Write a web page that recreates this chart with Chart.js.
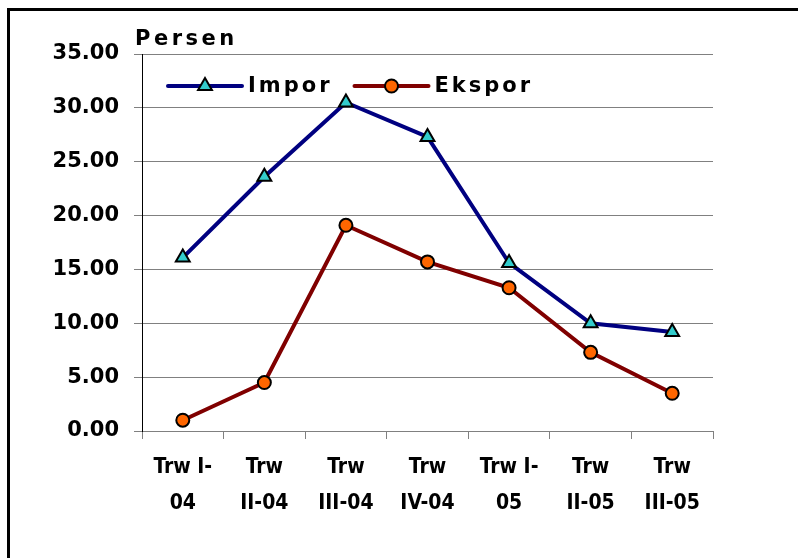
<!DOCTYPE html>
<html>
<head>
<meta charset="utf-8">
<script src="https://cdn.jsdelivr.net/npm/chart.js@4"></script>
<style>
  body { margin: 0; background: #fff; }
  canvas { display: block; }
</style>
</head>
<body>
<canvas id="grafik" width="798" height="558"></canvas>
<script>
// data kuartalan (persen)
const kategori = [
  ['Trw I-', '04'], ['Trw', 'II-04'], ['Trw', 'III-04'], ['Trw', 'IV-04'],
  ['Trw I-', '05'], ['Trw', 'II-05'], ['Trw', 'III-05']
];
const impor = [16.1, 23.6, 30.5, 27.3, 15.6, 10.0, 9.2];
const ekspor = [1.0, 4.5, 19.1, 15.7, 13.3, 7.3, 3.5];
const judulSumbuY = 'Persen';

const hurufTebal = '"DejaVu Sans", "Liberation Sans", sans-serif';
const hurufSempit = '"DejaVu Sans Condensed", "Liberation Sans Narrow", "Liberation Sans", sans-serif';

// bingkai kiri dan atas
const bingkai = {
  id: 'bingkai',
  beforeDraw: function (chart) {
    const ctx = chart.ctx;
    ctx.save();
    ctx.fillStyle = '#000';
    ctx.fillRect(7, 8, 3, 550);
    ctx.fillRect(7, 8, 791, 3);
    ctx.restore();
  }
};

// legenda di dalam area grafik: garis + penanda + teks
const legendaDalam = {
  id: 'legendaDalam',
  afterDraw: function (chart) {
    const ctx = chart.ctx;
    const area = chart.chartArea;
    let x = area.left + 26;
    const y = 86;
    ctx.save();
    ctx.letterSpacing = '3px';
    ctx.font = 'bold 21px ' + hurufTebal;
    ctx.textBaseline = 'middle';
    chart.data.datasets.forEach(function (ds) {
      ctx.strokeStyle = ds.borderColor;
      ctx.lineWidth = ds.borderWidth;
      ctx.lineCap = 'round';
      ctx.beginPath();
      ctx.moveTo(x, y);
      ctx.lineTo(x + 74, y);
      ctx.stroke();
      ctx.fillStyle = ds.pointBackgroundColor;
      ctx.strokeStyle = ds.pointBorderColor;
      ctx.lineWidth = ds.pointBorderWidth;
      Chart.helpers.drawPoint(ctx, {
        pointStyle: ds.pointStyle, radius: ds.pointRadius, rotation: 0, borderWidth: ds.pointBorderWidth
      }, x + 37, y);
      ctx.fillStyle = '#000';
      ctx.fillText(ds.label, x + 80, y + 1);
      x += 80 + ctx.measureText(ds.label).width + 22;
    });
    // judul sumbu Y
    ctx.letterSpacing = '3.5px';
    ctx.textBaseline = 'alphabetic';
    ctx.fillText(judulSumbuY, 135, 45);
    ctx.restore();
  }
};

new Chart(document.getElementById('grafik'), {
  type: 'line',
  data: {
    labels: kategori,
    datasets: [{
      label: 'Impor',
      data: impor,
      borderColor: '#000080',
      borderWidth: 4,
      pointStyle: 'triangle',
      pointRadius: 8,
      pointBackgroundColor: '#33CCCC',
      pointBorderColor: '#000',
      pointBorderWidth: 2,
      tension: 0
    }, {
      label: 'Ekspor',
      data: ekspor,
      borderColor: '#800000',
      borderWidth: 4,
      pointStyle: 'circle',
      pointRadius: 6.5,
      pointBackgroundColor: '#FF6600',
      pointBorderColor: '#000',
      pointBorderWidth: 2,
      tension: 0
    }]
  },
  options: {
    responsive: false,
    animation: false,
    layout: { padding: { left: 0, top: 54, right: 85, bottom: 0 } },
    plugins: {
      legend: { display: false },
      tooltip: { enabled: false }
    },
    scales: {
      x: {
        offset: true,
        grid: { offset: true, drawOnChartArea: false, color: '#808080', tickLength: 8 },
        border: { color: '#808080', width: 1 },
        ticks: {
          color: '#000',
          font: { family: hurufSempit, size: 21, weight: 'bold', lineHeight: 1.7 },
          padding: 11,
          maxRotation: 0,
          autoSkip: false
        },
        afterFit: function (scale) { scale.height = 127; }
      },
      y: {
        min: 0,
        max: 35,
        grid: { color: '#808080', tickLength: 8 },
        border: { color: '#000', width: 1 },
        ticks: {
          stepSize: 5,
          color: '#000',
          font: { family: hurufTebal, size: 21, weight: 'bold' },
          padding: 15,
          callback: function (v) { return v.toFixed(2); }
        },
        afterFit: function (scale) { scale.width = 142; }
      }
    }
  },
  plugins: [bingkai, legendaDalam]
});
</script>
</body>
</html>
